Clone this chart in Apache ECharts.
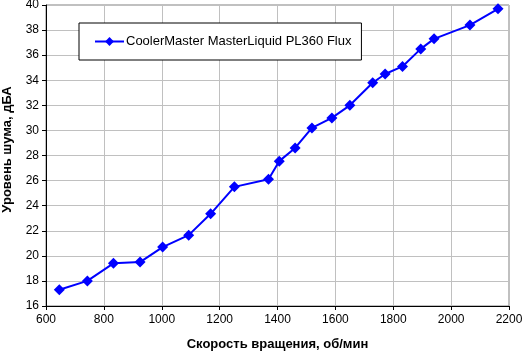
<!DOCTYPE html>
<html><head><meta charset="utf-8">
<script src="https://cdn.jsdelivr.net/npm/echarts@6/dist/echarts.min.js"></script>
<style>html,body{margin:0;padding:0;background:#fff}#c{width:522px;height:356px}</style>
</head><body><div id="c"></div>
<script>
const seriesName = 'CoolerMaster MasterLiquid PL360 Flux';
const rpm = [646, 743, 833, 925, 1003, 1093, 1169, 1251, 1369, 1406, 1461, 1519, 1588, 1650, 1729, 1772, 1832, 1895, 1941, 2065, 2162];
const noise = [17.3, 18.0, 19.4, 19.5, 20.7, 21.65, 23.35, 25.5, 26.1, 27.55, 28.6, 30.2, 31.0, 32.0, 33.8, 34.5, 35.1, 36.5, 37.3, 38.4, 39.7];
const xTitle = 'Скорость вращения, об/мин';
const yTitle = 'Уровень шума, дБА';

const chart = echarts.init(document.getElementById('c'), null, {renderer: 'canvas'});
const font = 'Liberation Sans, Arial, sans-serif';
chart.setOption({
  animation: false,
  backgroundColor: '#fff',
  grid: {left: 46, right: 13, top: 5, bottom: 50, show: true, borderColor: '#808080', borderWidth: 1, outerBoundsMode: 'none'},
  legend: {
    show: true, left: 79, top: 23, width: 282, height: 39,
    padding: [12, 10, 12, 15],
    backgroundColor: '#fff', borderColor: '#000', borderWidth: 1, borderRadius: 0,
    itemWidth: 29, itemHeight: 11, itemGap: 0,
    textStyle: {fontFamily: font, fontSize: 13, color: '#000', padding: [0, 0, 0, -3]},
    data: [{name: seriesName}]
  },
  xAxis: {
    type: 'value', min: 600, max: 2200, interval: 200,
    name: xTitle, nameLocation: 'middle', nameGap: 32,
    nameTextStyle: {fontFamily: font, fontSize: 13, fontWeight: 'bold', color: '#000'},
    axisLine: {show: true, lineStyle: {color: '#000', width: 1}},
    axisTick: {show: true, inside: false, length: 4, lineStyle: {color: '#000'}},
    axisLabel: {fontFamily: font, fontSize: 12, color: '#000', margin: 8, formatter: v => String(v)},
    splitLine: {show: true, lineStyle: {color: '#c0c0c0', width: 1}}
  },
  yAxis: {
    type: 'value', min: 16, max: 40, interval: 2,
    name: yTitle, nameLocation: 'middle', nameGap: 32, nameRotate: 90,
    nameTextStyle: {fontFamily: font, fontSize: 13, fontWeight: 'bold', color: '#000', padding: [0, 0, 0, 12]},
    axisLine: {show: true, onZero: false, lineStyle: {color: '#000', width: 1}},
    axisTick: {show: true, inside: false, length: 4, lineStyle: {color: '#000'}},
    axisLabel: {fontFamily: font, fontSize: 12, color: '#000', margin: 7, formatter: v => String(v)},
    splitLine: {show: true, lineStyle: {color: '#c0c0c0', width: 1}}
  },
  series: [{
    name: seriesName, type: 'line',
    data: rpm.map((x, i) => [x, noise[i]]),
    symbol: 'diamond', symbolSize: 11,
    lineStyle: {color: '#0000ff', width: 2},
    itemStyle: {color: '#0000ff'},
    z: 5
  }]
});
</script></body></html>
